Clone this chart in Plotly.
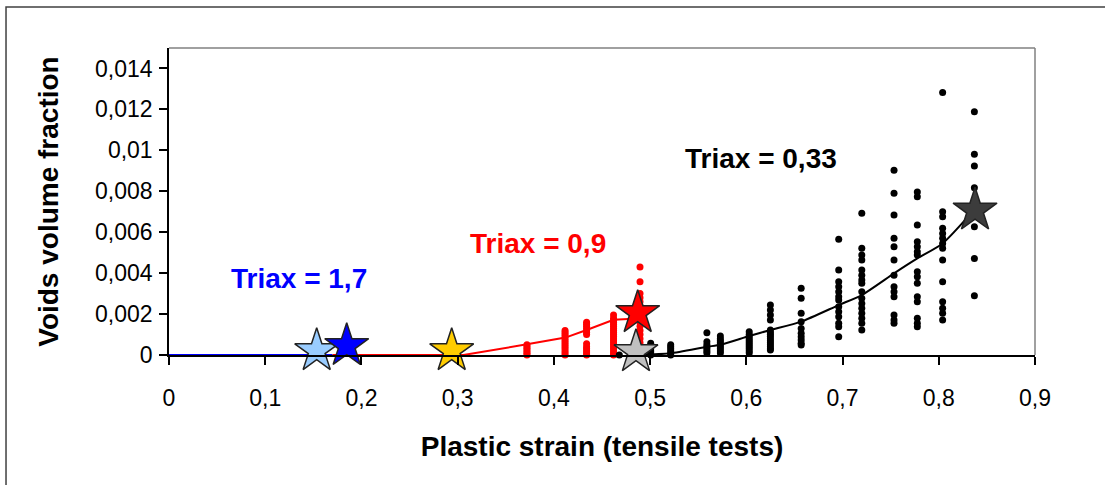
import plotly.graph_objects as go

# ---------------- data ----------------
x_tickvals = [0, 0.1, 0.2, 0.3, 0.4, 0.5, 0.6, 0.7, 0.8, 0.9]
x_ticktext = ["0", "0,1", "0,2", "0,3", "0,4", "0,5", "0,6", "0,7", "0,8", "0,9"]
y_tickvals = [0, 0.002, 0.004, 0.006, 0.008, 0.01, 0.012, 0.014]
y_ticktext = ["0", "0,002", "0,004", "0,006", "0,008", "0,01", "0,012", "0,014"]

# Triax = 1,7 curve
blue_line_x = [0.0, 0.17]
blue_line_y = [0.0, 0.0]

# Triax = 0,9 curve
red_line_x = [0.17, 0.306, 0.372, 0.412, 0.434, 0.462, 0.4875]
red_line_y = [0.0, 0.0, 0.00052, 0.00085, 0.00122, 0.00172, 0.00178]

# Triax = 0,33 curve
black_line_x = [0.487, 0.521, 0.559, 0.573, 0.603, 0.625, 0.657, 0.696, 0.72, 0.7535, 0.7777, 0.804, 0.837]
black_line_y = [0.0, 0.00008, 0.0004, 0.0005, 0.00093, 0.00122, 0.00163, 0.00244, 0.00293, 0.00399, 0.00472, 0.00545, 0.0071]

# red measured points (Triax = 0,9): strain of each column and void fractions
red_strain = [0.372, 0.4116, 0.434, 0.462, 0.4895]
red_voids = [
    [0.0, 0.00008, 0.00016, 0.00025, 0.00033, 0.00042, 0.0005],
    [0.0, 0.0001, 0.0002, 0.0003, 0.0004, 0.0005, 0.0006, 0.0007, 0.0008, 0.0009, 0.001, 0.0011, 0.0012],
    [0.0, 0.0001, 0.0002, 0.0003, 0.0004, 0.00055, 0.001, 0.0011, 0.0012, 0.0013, 0.0014, 0.0015, 0.0016],
    [0.0, 0.0001, 0.0002, 0.0003, 0.0004, 0.0005, 0.0006, 0.0007, 0.0008, 0.0009, 0.001, 0.0011, 0.0012,
     0.0013, 0.0014, 0.0015, 0.0016, 0.0017, 0.0018, 0.00195],
    [0.0, 0.0002, 0.0004, 0.0006, 0.0008, 0.001, 0.0012, 0.0014, 0.0016, 0.0018, 0.002, 0.0022, 0.0024,
     0.0026, 0.0028, 0.003, 0.00358, 0.0043],
]

# black measured points (Triax = 0,33)
black_strain = [0.468, 0.5006, 0.5214, 0.559, 0.573, 0.603, 0.625, 0.657, 0.696, 0.72, 0.7535, 0.7777, 0.804, 0.837]
black_voids = [
    [0.0],
    [0.0, 0.0001, 0.0002, 0.0003, 0.0004, 0.00057],
    [0.0, 0.0001, 0.0002, 0.0003, 0.0004, 0.0005],
    [0.0001, 0.0002, 0.0003, 0.0004, 0.0005, 0.00065, 0.00109],
    [0.0001, 0.0002, 0.0003, 0.0004, 0.0005, 0.0006, 0.0007, 0.0008, 0.00093],
    [0.0001, 0.0002, 0.0003, 0.0004, 0.0005, 0.0006, 0.0007, 0.0008, 0.0009, 0.001, 0.00114],
    [0.00024, 0.0003, 0.0004, 0.0005, 0.0006, 0.0007, 0.0008, 0.0009, 0.001, 0.0011, 0.00122,
     0.00171, 0.00195, 0.0022, 0.00244],
    [0.00049, 0.00057, 0.00073, 0.00089, 0.00106, 0.0013, 0.00163, 0.00204, 0.00277, 0.00326],
    [0.00089, 0.00138, 0.00155, 0.00187, 0.00211, 0.00236, 0.00269, 0.00285, 0.00309, 0.00333,
     0.00358, 0.00415, 0.00566],
    [0.00122, 0.00155, 0.00179, 0.00204, 0.00228, 0.00252, 0.00277, 0.00309, 0.0035, 0.00366,
     0.0039, 0.00415, 0.00464, 0.00488, 0.00521, 0.00692],
    [0.00155, 0.00171, 0.00195, 0.00285, 0.00309, 0.00333, 0.0039, 0.00464, 0.00529, 0.0057,
     0.00684, 0.0079, 0.00903],
    [0.00138, 0.00155, 0.00179, 0.0026, 0.00285, 0.0035, 0.00382, 0.00407, 0.00488, 0.00504,
     0.00529, 0.00553, 0.00635, 0.00773, 0.00797],
    [0.00171, 0.00204, 0.00228, 0.0026, 0.00358, 0.00464, 0.00521, 0.00545, 0.0057, 0.00594,
     0.00619, 0.00675, 0.007, 0.01283],
    [0.0029, 0.00472, 0.00627, 0.00724, 0.00817, 0.00924, 0.00981, 0.01188],
]

# star markers (failure points)
star_x = [0.1535, 0.1847, 0.2938, 0.4871, 0.4853, 0.8377]
star_y = [0.0002, 0.00045, 0.0002, 0.00206, 0.00015, 0.00707]
star_colors = ["#99CCFF", "#0000FF", "#FFCC00", "#FF0000", "#C0C0C0", "#3C3C3C"]

# annotations
labels = ["Triax = 1,7", "Triax = 0,9", "Triax = 0,33"]
label_x = [0.1347, 0.3836, 0.615]
label_y = [0.00376, 0.00547, 0.00962]
label_colors = ["#0000FF", "#FF0000", "#000000"]

# ---------------- figure ----------------
FONT = "Liberation Sans, Arial, sans-serif"

def flatten(cols, vals):
    xs, ys = [], []
    for c, vs in zip(cols, vals):
        for v in vs:
            xs.append(c)
            ys.append(v)
    return xs, ys

fig = go.Figure()

fig.add_trace(go.Scatter(x=blue_line_x, y=blue_line_y, mode="lines",
                         line=dict(color="#0000FF", width=2), cliponaxis=False))
fig.add_trace(go.Scatter(x=red_line_x, y=red_line_y, mode="lines",
                         line=dict(color="#FF0000", width=2), cliponaxis=False))
fig.add_trace(go.Scatter(x=black_line_x, y=black_line_y, mode="lines",
                         line=dict(color="#000000", width=2, shape="spline", smoothing=0.6),
                         cliponaxis=False))

rx, ry = flatten(red_strain, red_voids)
fig.add_trace(go.Scatter(x=rx, y=ry, mode="markers",
                         marker=dict(color="#FF0000", size=7, line=dict(width=0)),
                         cliponaxis=False))
bx, by = flatten(black_strain, black_voids)
fig.add_trace(go.Scatter(x=bx, y=by, mode="markers",
                         marker=dict(color="#000000", size=7, line=dict(width=0)),
                         cliponaxis=False))

for sx, sy, sc in zip(star_x, star_y, star_colors):
    fig.add_trace(go.Scatter(x=[sx], y=[sy], mode="markers",
                             marker=dict(symbol="star", size=33, color=sc,
                                         line=dict(color="#222222", width=1.5)),
                             cliponaxis=False))

for t, lx, ly, lc in zip(labels, label_x, label_y, label_colors):
    fig.add_annotation(x=lx, y=ly, text=t, showarrow=False,
                       font=dict(family=FONT, size=28, color=lc, weight="bold"))

# plot-area border (top & right) and outer chart frame
fig.add_shape(type="line", xref="paper", yref="paper", x0=0, x1=1, y0=1, y1=1,
              line=dict(color="#808080", width=1.5))
fig.add_shape(type="line", xref="paper", yref="paper", x0=1, x1=1, y0=0, y1=1,
              line=dict(color="#808080", width=1.5))
fig.add_shape(type="rect", xref="paper", yref="paper", x0=-0.1882, x1=1.2, y0=-0.6, y1=1.1336,
              line=dict(color="#404040", width=1.5))

fig.update_layout(
    width=1105, height=485,
    margin=dict(l=169, r=70, t=48, b=130),
    paper_bgcolor="white", plot_bgcolor="white",
    showlegend=False,
    font=dict(family=FONT, color="#000000"),
    xaxis=dict(range=[0, 0.9], tickvals=x_tickvals, ticktext=x_ticktext,
               showgrid=False, zeroline=False, showline=True, linecolor="#000000", linewidth=1.5,
               ticks="outside", ticklen=8, tickcolor="#000000", tickwidth=1.5,
               ticklabelstandoff=14,
               tickfont=dict(family=FONT, size=23, color="#000000"),
               title=dict(text="Plastic strain (tensile tests)", standoff=26,
                          font=dict(family=FONT, size=28, color="#000000", weight="bold"))),
    yaxis=dict(range=[0, 0.015], tickvals=y_tickvals, ticktext=y_ticktext,
               showgrid=False, zeroline=False, showline=True, linecolor="#000000", linewidth=1.5,
               ticks="outside", ticklen=8, tickcolor="#000000", tickwidth=1.5,
               ticklabelstandoff=2,
               tickfont=dict(family=FONT, size=23, color="#000000"),
               title=dict(text="Voids volume fraction", standoff=28,
                          font=dict(family=FONT, size=28, color="#000000", weight="bold"))),
)

fig.write_html("out.html", config={"displayModeBar": False},
               post_script="document.body.style.margin='0';document.body.style.overflow='hidden';")
